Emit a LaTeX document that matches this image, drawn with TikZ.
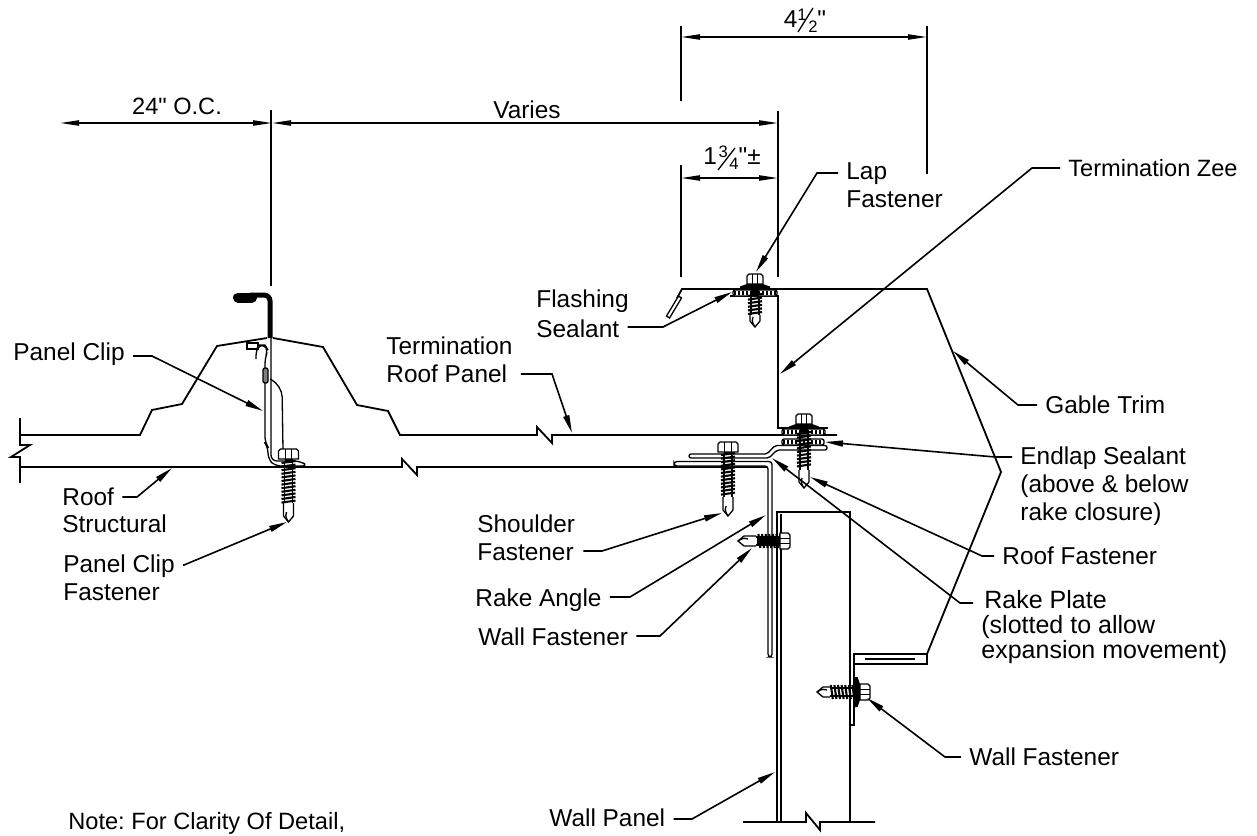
\documentclass[tikz,border=0pt]{standalone}
\usepackage{fontspec}
\usetikzlibrary{arrows.meta}
\setmainfont{Liberation Sans}[Ligatures = TeXOff]

\newcommand{\lblfont}{\frenchspacing\fontsize{12.2}{14}\selectfont}
\newcommand{\narrowfont}{\frenchspacing\fontsize{11.8}{14}\selectfont}
\newcommand{\stackfrac}[2]{\raisebox{3.5pt}{\fontsize{8.3}{8.3}\selectfont #1}\hspace{0.8pt}\raisebox{-2.5pt}{\fontsize{8.3}{8.3}\selectfont #2}}

\tikzset{
    lbl/.style = {font = \lblfont, anchor = west, inner sep = 0, align = left},
    dimtext/.style = {font = \lblfont, inner sep = 0},
    leader/.style = {-{Stealth[length = 9pt, width = 3pt, inset = 0pt]}, shorten <= 4pt, line width = 0.8pt},
    dimline/.style = {{Stealth[length = 9.5pt, width = 2.6pt, inset = 0pt]}-{Stealth[length = 9.5pt, width = 2.6pt, inset = 0pt]}, line width = 0.8pt},
    ext/.style = {line width = 0.9pt},
    part/.style = {line width = 0.9pt},
    thin part/.style = {line width = 0.65pt}
}

% head top at (#1, #2), pointing along #3; thread from #4 to #5, tip at #6, head half width #7
\newcommand{\fastener}[7]{
    \begin{scope}[shift = {(#1, #2)}, rotate = #3, thin part]
        \pgfmathsetmacro{\threadnext}{#4 + 3.6}
        \fill (-4, 10) rectangle (4, #4);
        \draw [fill = white] (-5, #5) -- (-5, #6 - 6) -- (0, #6) -- (5, #6 - 6) -- (5, #5);
        \draw (-2, #6 - 10) .. controls (-4, #6 - 5) and (-1, #6 - 2) .. (0, #6);
        \draw (-4, #4) -- (-4, #5);
        \draw (4, #4) -- (4, #5);
        \foreach \ty in {#4, \threadnext, ..., #5} {
            \draw [line width = 1.05pt] (-7, \ty) -- (7, \ty - 2);
        }
        \draw [fill = white] (-#7, 10) -- (-#7, 2) -- (-#7 + 2, 0) -- (#7 - 2, 0) -- (#7, 2) -- (#7, 10) -- cycle;
        \draw ({-#7 / 3}, 0) -- ({-#7 / 3}, 10);
        \draw ({#7 / 3}, 0) -- ({#7 / 3}, 10);
    \end{scope}
}
\newcommand{\washer}[3]{
    \fill [shift = {(#1, #2)}, rotate = #3] (-15, 15) -- (-15, 12.5) -- (-8, 10) -- (8, 10) -- (15, 12.5) -- (15, 15) -- cycle;
}

\begin{document}
\begin{tikzpicture}[x = 0.5pt, y = -0.5pt]
    \useasboundingbox (0, 0) rectangle (1257, 835);

    % roof panel and structural
    \draw [part] (20, 418) -- (20, 445) -- (30, 445) -- (11, 457) -- (20, 457) -- (20, 483);
    \draw [part] (20, 435) -- (140, 435) -- (152, 410) -- (182, 404) -- (217, 346) -- (267, 338);
    \draw [part] (273, 338) -- (323, 347) -- (357, 405) -- (388, 411) -- (400, 435) -- (537, 435) -- (537, 427) -- (552, 443) -- (552, 435) -- (837, 435);
    \draw [part] (20, 467) -- (402, 467) -- (402, 459) -- (417, 475) -- (417, 467) -- (768, 467);
    \draw [line width = 2.5pt, rounded corners = 3pt] (270, 338) -- (270, 295) -- (250, 295);
    \draw [line width = 5pt, line cap = round] (238, 297.5) -- (252, 297.5);

    % panel clip
    \draw [thin part, rounded corners = 3pt] (271, 338) -- (271, 461) -- (300, 461) -- (308, 466) -- (275, 466) -- (268, 459) -- (268, 447) -- (265, 443) -- (265, 358) -- (268, 350) -- (265, 345) -- (259, 345) -- (256, 350) -- (256, 359);
    \draw [thin part] (247, 343) rectangle (258, 349);
    \draw [thin part, fill = gray, rounded corners = 1pt] (263, 368) rectangle (268, 383);
    \draw [thin part, rounded corners = 6pt] (270, 379) -- (282, 385) -- (283, 450);

    % termination zee and gable trim
    \draw [thin part] (678.5, 296) -- (681.5, 298) -- (669.5, 318) -- (666.5, 316) -- cycle;
    \draw [part] (677, 298) -- (682, 289) -- (927, 289) -- (1001, 472) -- (927, 654) -- (854, 654) -- (854, 664) -- (927, 664) -- (927, 654);
    \draw [part] (730, 296) -- (778, 296) -- (778, 428) -- (828, 428);
    \draw [thin part] (865, 659) -- (915, 659);
    \draw [part] (854, 664) -- (854, 725) -- (850, 725);

    % rake plate and rake angle
    \draw [thin part, fill = white, rounded corners = 1pt] (689, 454) -- (767, 454) -- (775, 445.5) -- (827, 445.5) -- (827, 450) -- (777, 450) -- (769, 458) -- (689, 458) -- cycle;
    \draw [thin part, fill = white, rounded corners = 1.5pt] (674, 461.5) -- (772, 461.5) -- (772, 657) -- (768, 657) -- (768, 466) -- (674, 466) -- cycle;

    % wall panel
    \draw [part] (777, 822) -- (777, 512) -- (850, 512) -- (850, 822);
    \draw [part] (781, 822) -- (781, 514);
    \draw [part] (743, 822) -- (806, 822) -- (806, 813) -- (820, 830) -- (820, 822) -- (875, 822);

    % sealant
    \foreach \bx/\by/\bw in {733/290/44, 782/429/43, 782/439/42} {
        \draw [thin part, fill = white, rounded corners = 1pt] (\bx, \by) rectangle (\bx + \bw, \by + 6);
        \draw [line width = 2pt, dash pattern = on 1.2pt off 0.8pt] (\bx + 1, \by + 3) -- (\bx + \bw - 1, \by + 3);
    }

    % fasteners
    \fastener{755}{274}{0}{22}{41}{53}{8}
    \washer{755}{274}{0}
    \fastener{804}{414}{0}{20}{56}{74}{8}
    \washer{804}{414}{0}
    \fastener{288.5}{449}{0}{14}{54}{73}{10}
    \fastener{728}{442}{0}{13}{55}{74}{10}
    \fastener{790}{541}{-90}{10}{34}{52}{8}
    \fill (757, 536) rectangle (780, 546);
    \fastener{870}{692}{-90}{14}{40}{53}{8}
    \washer{870}{692}{-90}

    % dimensions
    \coordinate (dimA) at (60, 123);
    \coordinate (dimB) at (272, 123);
    \coordinate (dimC) at (778, 123);
    \coordinate (dimD) at (681, 37);
    \coordinate (dimE) at (927, 37);
    \coordinate (dimF) at (681, 178);
    \coordinate (dimG) at (778, 178);
    \draw [ext] (271, 110) -- (271, 286);
    \draw [ext] (778, 111) -- (778, 277);
    \draw [ext] (681, 26) -- (681, 101);
    \draw [ext] (681, 165) -- (681, 277);
    \draw [ext] (927, 26) -- (927, 174);
    \draw [dimline] (dimA) -- (dimB);
    \draw [dimline] (dimB) -- (dimC);
    \draw [dimline] (dimD) -- (dimE);
    \draw [dimline] (dimF) -- (dimG);
    \node (txtOnCentre) [dimtext, font = \narrowfont] at (177, 106) {24" O.C.};
    \node (txtVaries) [dimtext] at (527, 110) {Varies};
    \node (txtFourHalf) [dimtext] at (805, 21) {4\stackfrac{1}{2}"};
    \node (txtOneThreeQuarter) [dimtext] at (732, 158) {1\hspace{0.8pt}\stackfrac{3}{4}"±};
    \draw [thin part] (798, 32) -- (813, 8);
    \draw [thin part] (718, 170) -- (735, 148);

    % labels
    \node (lblPanelClip) [lbl] at (13, 354) {Panel Clip};
    \node (lblRoof) [lbl] at (62, 497) {Roof};
    \node (lblStructural) [lbl] at (62, 524) {Structural};
    \node (lblClipFastener) [lbl] at (63, 578) {Panel Clip\\Fastener};
    \node (lblRoofPanel) [lbl] at (386, 360) {Termination\\Roof Panel};
    \node (lblFlashing) [lbl] at (536, 301) {Flashing};
    \node (lblSealant) [lbl] at (536, 329) {Sealant};
    \node (lblLap) [lbl] at (846, 185) {Lap\\Fastener};
    \node (lblZee) [lbl, font = \narrowfont] at (1068, 168) {Termination Zee};
    \node (lblGable) [lbl] at (1045, 405) {Gable Trim};
    \node (lblEndlap) [lbl] at (1020, 486) {Endlap Sealant\\(above \& below\\rake closure)};
    \node (lblRoofFastener) [lbl] at (1002, 556) {Roof Fastener};
    \node (lblRakePlate) [lbl, font = \frenchspacing\fontsize{12.5}{12.6}\selectfont] at (981, 627) {\hspace{1.5pt}Rake Plate\\(slotted to allow\\expansion movement)};
    \node (lblShoulder) [lbl] at (477, 538) {Shoulder\\Fastener};
    \node (lblRakeAngle) [lbl] at (475, 600) {Rake Angle};
    \node (lblWallFastenerA) [lbl] at (478, 637) {Wall Fastener};
    \node (lblWallFastenerB) [lbl] at (969, 757) {Wall Fastener};
    \node (lblWallPanel) [lbl] at (549, 818) {Wall Panel};
    \node (lblNote) [lbl, font = \narrowfont] at (68, 823) {Note: For Clarity Of Detail,};

    % leaders
    \coordinate (kneePanelClip) at (152, 356);
    \coordinate (tipPanelClip) at (263, 411);
    \coordinate (kneeRoof) at (137, 497);
    \coordinate (tipRoof) at (172, 468);
    \coordinate (kneeClipFastener) at (184, 565);
    \coordinate (tipClipFastener) at (287, 522);
    \coordinate (kneeRoofPanel) at (552, 374);
    \coordinate (tipRoofPanel) at (572, 433);
    \coordinate (kneeSealant) at (663, 327);
    \coordinate (tipSealant) at (732, 292);
    \coordinate (kneeLap) at (817, 173);
    \coordinate (tipLap) at (756, 272);
    \coordinate (kneeZee) at (1032, 168);
    \coordinate (tipZee) at (780, 374);
    \coordinate (kneeGable) at (1018, 405);
    \coordinate (tipGable) at (953, 351);
    \coordinate (kneeEndlap) at (995, 457);
    \coordinate (tipEndlap) at (825, 442);
    \coordinate (kneeRoofFastener) at (982, 556);
    \coordinate (tipRoofFastener) at (810, 477);
    \coordinate (kneeRakePlate) at (960, 603);
    \coordinate (tipRakePlate) at (772, 458);
    \coordinate (kneeShoulder) at (602, 551);
    \coordinate (tipShoulder) at (722, 513);
    \coordinate (kneeRakeAngle) at (630, 597);
    \coordinate (tipRakeAngle) at (766, 515);
    \coordinate (kneeWallA) at (660, 636);
    \coordinate (tipWallA) at (752, 548);
    \coordinate (kneeWallB) at (945, 757);
    \coordinate (tipWallB) at (867, 698);
    \coordinate (kneeWallPanel) at (692, 819);
    \coordinate (tipWallPanel) at (775, 772);
    \draw [leader] (lblPanelClip.east |- kneePanelClip) -- (kneePanelClip) -- (tipPanelClip);
    \draw [leader] (lblRoof.east |- kneeRoof) -- (kneeRoof) -- (tipRoof);
    \draw [leader] (lblClipFastener.east |- kneeClipFastener) -- (kneeClipFastener) -- (tipClipFastener);
    \draw [leader] (lblRoofPanel.east |- kneeRoofPanel) -- (kneeRoofPanel) -- (tipRoofPanel);
    \draw [leader] (lblSealant.east |- kneeSealant) -- (kneeSealant) -- (tipSealant);
    \draw [leader] (lblLap.west |- kneeLap) -- (kneeLap) -- (tipLap);
    \draw [leader] (lblZee.west |- kneeZee) -- (kneeZee) -- (tipZee);
    \draw [leader] (lblGable.west |- kneeGable) -- (kneeGable) -- (tipGable);
    \draw [leader] (lblEndlap.west |- kneeEndlap) -- (kneeEndlap) -- (tipEndlap);
    \draw [leader] (lblRoofFastener.west |- kneeRoofFastener) -- (kneeRoofFastener) -- (tipRoofFastener);
    \draw [leader] (lblRakePlate.west |- kneeRakePlate) -- (kneeRakePlate) -- (tipRakePlate);
    \draw [leader] (lblShoulder.east |- kneeShoulder) -- (kneeShoulder) -- (tipShoulder);
    \draw [leader] (lblRakeAngle.east |- kneeRakeAngle) -- (kneeRakeAngle) -- (tipRakeAngle);
    \draw [leader] (lblWallFastenerA.east |- kneeWallA) -- (kneeWallA) -- (tipWallA);
    \draw [leader] (lblWallFastenerB.west |- kneeWallB) -- (kneeWallB) -- (tipWallB);
    \draw [leader] (lblWallPanel.east |- kneeWallPanel) -- (kneeWallPanel) -- (tipWallPanel);
\end{tikzpicture}
\end{document}
